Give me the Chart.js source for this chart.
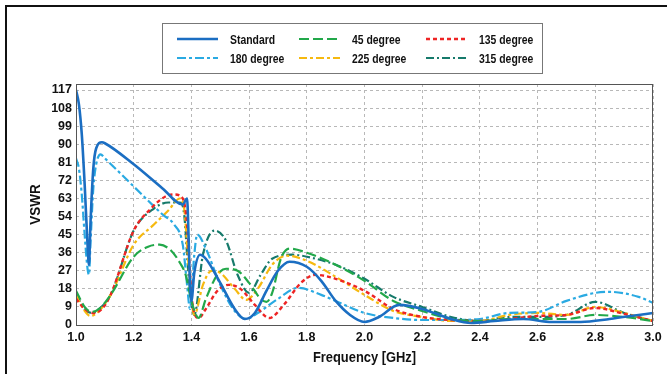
<!DOCTYPE html>
<html>
<head>
<meta charset="utf-8">
<script src="https://cdn.jsdelivr.net/npm/chart.js@4"></script>
<style>
  body { margin: 0; background: #fff; }
  #wrap { position: relative; width: 667px; height: 374px; overflow: hidden; }
  #frame { position: absolute; left: 5px; top: 5px; width: 700px; height: 400px; border: 2px solid #111; box-sizing: border-box; }
  #myChart { position: absolute; left: 0; top: 0; }
</style>
</head>
<body>
<div id="wrap">
  <div id="frame"></div>
  <canvas id="myChart" width="667" height="374"></canvas>
</div>
<script>
// ================= Data =================
const xTicks = [1.0, 1.2, 1.4, 1.6, 1.8, 2.0, 2.2, 2.4, 2.6, 2.8, 3.0];
const yTicks = [0, 9, 18, 27, 36, 45, 54, 63, 72, 81, 90, 99, 108, 117];

const seriesNames = ['Standard', '45 degree', '135 degree', '180 degree', '225 degree', '315 degree'];

const stdFreq = [1.0, 1.01, 1.02, 1.03, 1.04, 1.045, 1.05, 1.06, 1.07, 1.09, 1.1, 1.2, 1.3, 1.37, 1.385, 1.39, 1.395, 1.40, 1.41, 1.43, 1.45, 1.5, 1.55, 1.585, 1.62, 1.66, 1.7, 1.74, 1.8, 1.85, 1.9, 1.95, 2.0, 2.05, 2.12, 2.2, 2.3, 2.37, 2.45, 2.55, 2.65, 2.75, 2.85, 2.95, 3.0];
const stdVswr = [117, 110, 95, 70, 40, 30, 50, 78, 88, 91, 90.5, 80, 68, 60, 63, 45, 20, 12, 26, 35, 33, 21, 8, 3, 6, 17, 27, 31.5, 29, 22, 12, 5, 1.5, 4, 10, 8, 3, 1, 2, 3, 1.5, 1.5, 3, 5, 6];

const deg45Freq = [1.0, 1.03, 1.055, 1.08, 1.12, 1.2, 1.25, 1.29, 1.33, 1.36, 1.38, 1.40, 1.425, 1.45, 1.49, 1.52, 1.56, 1.6, 1.64, 1.66, 1.68, 1.71, 1.74, 1.8, 1.9, 2.0, 2.1, 2.2, 2.3, 2.4, 2.5, 2.6, 2.7, 2.8, 2.9, 3.0];
const deg45Vswr = [17, 9, 6.5, 8, 15, 34, 39, 40, 37, 31, 25, 12, 3.5, 13, 25, 28, 27, 21, 13, 11.5, 16, 33, 38, 36, 30, 22, 12, 7, 3, 2, 3, 3, 3, 5, 4, 2];

const deg135Freq = [1.0, 1.03, 1.06, 1.09, 1.12, 1.2, 1.26, 1.31, 1.34, 1.37, 1.385, 1.40, 1.425, 1.45, 1.49, 1.53, 1.57, 1.62, 1.67, 1.72, 1.78, 1.83, 1.9, 2.0, 2.1, 2.2, 2.3, 2.4, 2.5, 2.6, 2.7, 2.8, 2.9, 3.0];
const deg135Vswr = [13, 8, 6, 8, 15, 47, 58, 64, 65, 63, 50, 15, 3.5, 8, 17, 20, 18, 10, 3.5, 10, 21, 25, 23, 17, 8, 4, 2.5, 2, 3, 4.5, 5, 8.5, 5.5, 2];

const deg180Freq = [1.0, 1.01, 1.02, 1.03, 1.04, 1.045, 1.05, 1.06, 1.07, 1.085, 1.1, 1.2, 1.3, 1.34, 1.37, 1.385, 1.395, 1.41, 1.42, 1.45, 1.5, 1.55, 1.59, 1.63, 1.7, 1.77, 1.85, 1.9, 2.0, 2.1, 2.2, 2.3, 2.4, 2.5, 2.6, 2.7, 2.8, 2.85, 2.95, 3.0];
const deg180Vswr = [83, 78, 65, 45, 28, 25, 40, 68, 80, 85, 83, 69, 55, 50, 40, 20, 8, 35, 45, 38, 20, 7, 3, 6, 13, 18.5, 15, 12, 6, 3.5, 2.5, 2.5, 3, 6, 6.5, 12, 16, 16.5, 14, 11];

const deg225Freq = [1.0, 1.03, 1.05, 1.08, 1.12, 1.2, 1.27, 1.32, 1.36, 1.375, 1.39, 1.41, 1.44, 1.47, 1.5, 1.55, 1.59, 1.63, 1.68, 1.73, 1.8, 1.9, 2.0, 2.1, 2.2, 2.3, 2.4, 2.5, 2.6, 2.7, 2.8, 2.9, 3.0];
const deg225Vswr = [15, 7, 4.5, 7, 15, 40, 50, 57, 63, 58, 30, 5, 20, 27, 26, 18, 12.5, 18, 30, 34.5, 32, 24, 15, 7, 4, 2, 2, 5, 6, 5, 9, 6, 2];

const deg315Freq = [1.0, 1.03, 1.055, 1.08, 1.12, 1.2, 1.27, 1.32, 1.36, 1.375, 1.39, 1.41, 1.44, 1.48, 1.52, 1.56, 1.6, 1.64, 1.68, 1.75, 1.8, 1.9, 2.0, 2.1, 2.2, 2.3, 2.4, 2.5, 2.6, 2.7, 2.8, 2.9, 3.0];
const deg315Vswr = [15, 8, 6, 8, 15, 47, 58, 61, 61, 55, 25, 5, 35, 47, 42, 25, 16, 25, 33, 35, 34, 30, 23, 14, 9, 4, 2, 4, 4, 5, 11.5, 6, 2];

const FONT = "'Liberation Sans', Arial, sans-serif";

function toPoints(xs, ys) {
  return xs.map((x, i) => ({ x: x, y: ys[i] }));
}

function makeSet(label, xs, ys, color, dash, width) {
  return {
    label: label,
    data: toPoints(xs, ys),
    borderColor: color,
    backgroundColor: color,
    borderDash: dash,
    borderWidth: width,
    pointRadius: 0,
    fill: false,
    cubicInterpolationMode: 'monotone'
  };
}

// squeezed text, the source figure is narrow
function narrowText(c, text, x, y, sx, align) {
  c.save();
  c.translate(x, y);
  c.scale(sx, 1);
  c.textAlign = align;
  c.fillText(text, 0, 0);
  c.restore();
}

// ================= Legend, titles, frame =================
const boxLegend = {
  id: 'boxLegend',
  afterDraw(chart) {
    const c = chart.ctx;
    const a = chart.chartArea;

    // plot frame
    c.save();
    c.strokeStyle = '#555';
    c.lineWidth = 1;
    c.strokeRect(a.left + 0.5, a.top + 0.5, a.right - a.left - 1, a.bottom - a.top);

    // axis titles
    c.fillStyle = '#111';
    c.font = "bold 15px " + FONT;
    c.textBaseline = 'middle';
    narrowText(c, 'Frequency [GHz]', (a.left + a.right) / 2, 358, 0.86, 'center');
    c.save();
    c.translate(36, (a.top + a.bottom) / 2);
    c.rotate(-Math.PI / 2);
    narrowText(c, 'VSWR', 0, 0, 0.9, 'center');
    c.restore();

    // legend box
    c.fillStyle = '#fff';
    c.fillRect(162, 23, 380, 50);
    c.strokeStyle = '#777';
    c.strokeRect(162.5, 23.5, 380, 50);

    const cols = [177, 299, 426];
    const rows = [39, 58];
    chart.data.datasets.forEach((ds, i) => {
      const x = cols[i % 3];
      const y = rows[Math.floor(i / 3)];
      c.strokeStyle = ds.borderColor;
      c.lineWidth = ds.borderWidth;
      c.setLineDash(ds.borderDash || []);
      c.beginPath();
      c.moveTo(x, y);
      c.lineTo(x + 41, y);
      c.stroke();
      c.setLineDash([]);
      c.fillStyle = '#111';
      c.font = "bold 13px " + FONT;
      narrowText(c, ds.label, x + 53, y + 1, 0.8, 'left');
    });
    c.restore();
  }
};

// ================= Line Chart =================
const ctx = document.getElementById('myChart');

new Chart(ctx, {
  type: 'line',
  data: {
    datasets: [
      makeSet(seriesNames[0], stdFreq, stdVswr, '#1b6ec2', [], 2.6),
      makeSet(seriesNames[1], deg45Freq, deg45Vswr, '#22a84a', [10, 4], 2.2),
      makeSet(seriesNames[2], deg135Freq, deg135Vswr, '#ee2424', [4, 3], 2.4),
      makeSet(seriesNames[3], deg180Freq, deg180Vswr, '#2aaae2', [9, 3, 3, 3], 2.2),
      makeSet(seriesNames[4], deg225Freq, deg225Vswr, '#f6b90f', [8, 3, 3, 3], 2.2),
      makeSet(seriesNames[5], deg315Freq, deg315Vswr, '#167a6b', [8, 3, 2, 3], 2.2)
    ]
  },
  options: {
    responsive: false,
    animation: false,
    layout: { padding: { top: 84, right: 14, left: 0, bottom: 0 } },
    plugins: {
      legend: { display: false },
      tooltip: { enabled: false }
    },
    scales: {
      x: {
        type: 'linear',
        min: 1.0,
        max: 3.0,
        afterBuildTicks: s => { s.ticks = xTicks.map(v => ({ value: v })); },
        afterFit: s => { s.height = 49; },
        grid: { color: '#b8b8b8', drawTicks: false, lineWidth: 1 },
        border: { display: false, dash: [3, 3] },
        ticks: {
          padding: 5,
          autoSkip: false,
          color: '#111',
          font: { family: FONT, size: 12.5, weight: 'bold' },
          maxRotation: 0,
          callback: v => v.toFixed(1)
        }
      },
      y: {
        min: 0,
        max: 120,
        afterBuildTicks: s => { s.ticks = yTicks.map(v => ({ value: v })); },
        afterFit: s => { s.width = 76; },
        grid: { color: '#b8b8b8', drawTicks: false, lineWidth: 1 },
        border: { display: false, dash: [3, 3] },
        ticks: {
          padding: 4,
          autoSkip: false,
          color: '#111',
          font: { family: FONT, size: 12.5, weight: 'bold' }
        }
      }
    }
  },
  plugins: [boxLegend]
});
</script>
</body>
</html>
